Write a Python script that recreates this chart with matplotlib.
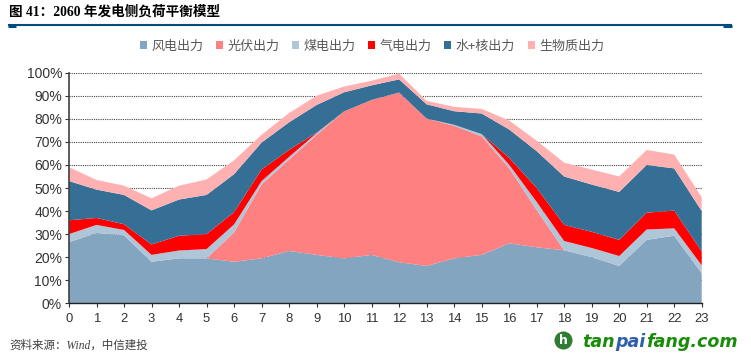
import matplotlib
matplotlib.use('Agg')
import matplotlib.pyplot as plt
from matplotlib.lines import Line2D

plt.rcParams['font.family'] = ['Liberation Sans', 'Noto Sans CJK SC']

# Data (percent of load, stacked bottom to top)
hours = list(range(24))
wind = [26.5, 30.5, 29.5, 18, 19.5, 19.5, 18, 19.5, 22.7, 21, 19.5, 21,
        17.8, 16.2, 19.5, 21, 26, 24.3, 23, 20, 16.2, 27.5, 29.3, 13]
solar = [0, 0, 0, 0, 0, 0, 12.7, 32, 39.6, 52, 63.7, 67.2,
         73.6, 63.9, 57.5, 51.4, 32.6, 16.2, 0, 0, 0, 0, 0, 0]
coal = [3.5, 3.5, 2.3, 3, 3.4, 4, 3.5, 1.5, 1.2, 0.8, 0, 0,
        0, 0, 0.4, 1, 1.5, 3.5, 4, 4, 4.3, 4.5, 3.2, 3.5]
gas = [6, 3, 2.5, 4.5, 6.4, 6.5, 5.3, 5, 3, 0.2, 0, 0,
       0, 0, 0, 0, 3, 6, 7, 7, 7, 7.3, 7.7, 6]
hydro = [17, 12.3, 12.7, 14.8, 15.7, 17, 16.5, 11.7, 12, 12, 8.3, 6.3,
         5.7, 6.2, 5.9, 8.9, 12.3, 16, 21, 20.5, 20.8, 20.7, 18.3, 17.5]
biomass = [6, 4.2, 4, 5.2, 6, 6.7, 6, 3.4, 4, 4, 2.5, 2,
           2.5, 1.5, 1.9, 2, 3.9, 4.5, 6, 6.5, 6.7, 6.5, 6, 6]

labels = ['风电出力', '光伏出力', '煤电出力', '气电出力', '水+核出力', '生物质出力']
colors = ['#84A5BF', '#FF8080', '#AFC6D8', '#FF0000', '#366F96', '#FFB0B0']

W, H = 751, 360
fig = plt.figure(figsize=(W / 100, H / 100), dpi=100)
ax = fig.add_axes([69 / W, 1 - 303.3 / H, 632.7 / W, 230.6 / H])

ax.stackplot(hours, wind, solar, coal, gas, hydro, biomass,
             colors=colors, labels=labels, linewidth=0)

ax.set_xlim(0, 23)
ax.set_ylim(0, 100)
ax.set_xticks(hours)
ax.set_yticks(range(0, 101, 10))
ax.set_yticklabels([f'{v}%' for v in range(0, 101, 10)])
ax.tick_params(axis='x', labelsize=9.4, colors='#333333', length=3, width=0.8, pad=4)
ax.tick_params(axis='y', labelsize=10, colors='#333333', length=3, width=0.8, pad=2)

ax.set_axisbelow(True)
ax.yaxis.grid(True, linestyle=(0, (1, 1)), color='#444444', linewidth=0.8)
ax.spines['top'].set_visible(False)
ax.spines['right'].set_visible(False)
ax.spines['left'].set_color('#404040')
ax.spines['left'].set_linewidth(1.2)
ax.spines['bottom'].set_color('#202020')
ax.spines['bottom'].set_linewidth(1.0)

fig.legend(*ax.get_legend_handles_labels(), loc='center', ncol=6,
           bbox_to_anchor=(372 / W, 1 - 46 / H), frameon=False,
           labelcolor='#595959', handlelength=0.55, handleheight=0.55,
           handletextpad=0.35, columnspacing=0.95,
           prop={'family': ['Noto Sans CJK SC', 'DejaVu Sans'], 'size': 9.4})

# header
fig.text(9 / W, 1 - 12 / H, '图 41：2060 年发电侧负荷平衡模型', fontsize=9.8,
         fontweight='bold', color='black', va='center', ha='left',
         family=['Liberation Serif', 'Noto Sans CJK SC'])
rule = '#004B80'
fig.add_artist(Line2D([8 / W, 732 / W], [1 - 25 / H] * 2, color=rule, lw=1.5,
                      solid_capstyle='butt'))
fig.add_artist(Line2D([8 / W, 16 / W], [1 - 26 / H] * 2, color=rule, lw=2.2,
                      solid_capstyle='butt'))
fig.add_artist(Line2D([723 / W, 732 / W], [1 - 26 / H] * 2, color=rule, lw=2.2,
                      solid_capstyle='butt'))

# source line
fig.text(9 / W, 1 - 346 / H, '资料来源：Wind，中信建投', fontsize=8.3, style='italic',
         color='#404040', va='center', ha='left',
         family=['Liberation Serif', 'Noto Sans CJK SC'])

# watermark, pieces placed one after the other
fig.add_artist(Line2D([563 / W], [1 - 340 / H], marker='o', markersize=13,
                      color='#2E7D32', markeredgewidth=0))
fig.text(563 / W, 1 - 340 / H, 'h', fontsize=9, fontweight='bold', color='white',
         ha='center', va='center', family='DejaVu Sans')
renderer = fig.canvas.get_renderer()
x = 582
for txt, col in [('tan', '#1A8C0A'), ('pai', '#2F5FA8'), ('fang.com', '#1A8C0A')]:
    t = fig.text(x / W, 1 - 340 / H, txt, fontsize=12.6, fontweight='bold', style='italic',
                 color=col, ha='left', va='center_baseline', family='DejaVu Sans')
    x = t.get_window_extent(renderer).x1 + 0.5

fig.savefig('out.png', dpi=100)
